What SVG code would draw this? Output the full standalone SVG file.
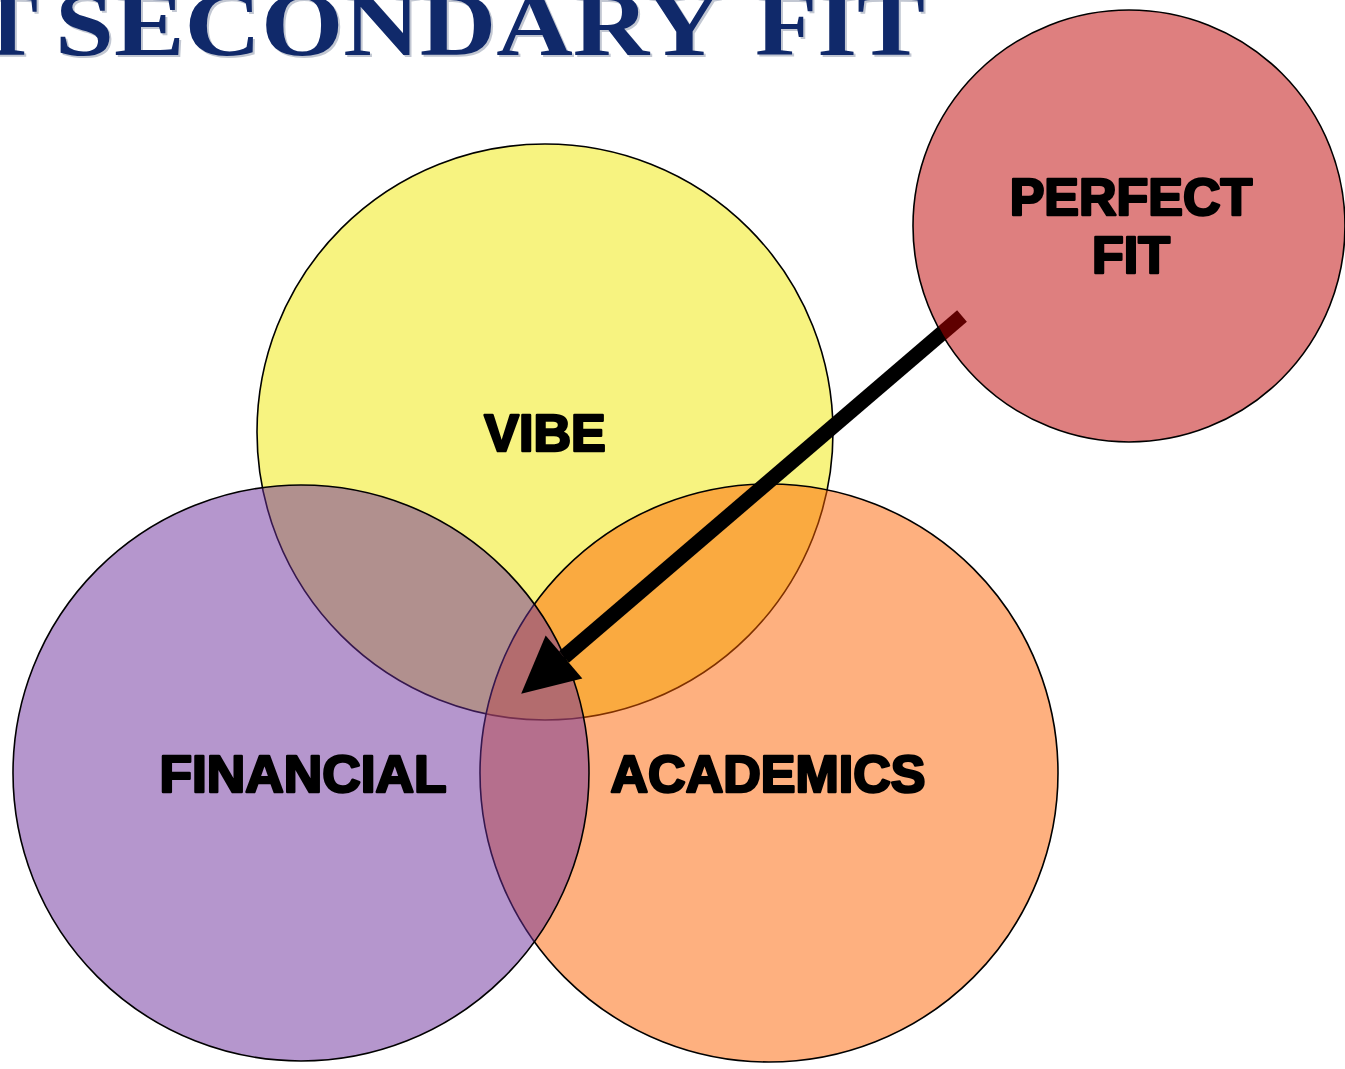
<svg xmlns="http://www.w3.org/2000/svg" width="1345" height="1069" viewBox="0 0 1345 1069">
<defs>
<style>
.circ{stroke:#000;stroke-width:1.6}
.lbl{font-family:"Liberation Sans",Arial,sans-serif;font-weight:bold;font-size:52px;fill:#000;stroke:#000;stroke-width:2.6;stroke-linejoin:round;text-anchor:middle}
.title{font-family:"Liberation Serif","Times New Roman",serif;font-weight:bold;font-size:92px;fill:#10296a}
.shadow{font-family:"Liberation Serif","Times New Roman",serif;font-weight:bold;font-size:92px;fill:#9aa3b5;opacity:0.6}
</style>
<marker id="ah" markerUnits="userSpaceOnUse" markerWidth="60" markerHeight="60" viewBox="0 -25 48 50" refX="0" refY="0" orient="auto">
<path d="M0,-23.5 L47,0 L0,23.5 Z" fill="#000"/>
</marker>
</defs>
<rect width="1345" height="1069" fill="#fff"/>
<g id="title">
<text class="shadow" x="-20" y="57" textLength="60" lengthAdjust="spacingAndGlyphs">T</text>
<text class="shadow" x="57" y="57" textLength="667" lengthAdjust="spacingAndGlyphs">SECONDARY</text>
<text class="shadow" x="757" y="57" textLength="170" lengthAdjust="spacingAndGlyphs">FIT</text>
<text class="title" x="-22" y="55" textLength="60" lengthAdjust="spacingAndGlyphs">T</text>
<text class="title" x="55" y="55" textLength="667" lengthAdjust="spacingAndGlyphs">SECONDARY</text>
<text class="title" x="755" y="55" textLength="170" lengthAdjust="spacingAndGlyphs">FIT</text>
</g>
<g id="vibe">
<circle class="circ" cx="545" cy="432" r="288" fill="#f7f380"/>
</g>
<g id="academics">
<circle class="circ" cx="769" cy="773" r="289" fill="#fd6100" fill-opacity="0.5" stroke="#3a1a00"/>
</g>
<g id="financial">
<circle class="circ" cx="301" cy="773" r="288" fill="#6c2e9c" fill-opacity="0.5" stroke="#24143f"/>
</g>
<g id="connectors">
<line x1="962" y1="316" x2="564" y2="657" stroke="#000" stroke-width="15" stroke-linecap="butt" marker-end="url(#ah)"/>
</g>
<g id="perfect-fit">
<circle class="circ" cx="1129" cy="226" r="216" fill="#be0000" fill-opacity="0.5"/>
<text class="lbl" x="1131" y="215">PERFECT</text>
<text class="lbl" x="1131" y="273">FIT</text>
</g>
<g id="labels">
<text class="lbl" x="545" y="451">VIBE</text>
<text class="lbl" x="303" y="792" textLength="287" lengthAdjust="spacingAndGlyphs">FINANCIAL</text>
<text class="lbl" x="768" y="792">ACADEMICS</text>
</g>
</svg>
